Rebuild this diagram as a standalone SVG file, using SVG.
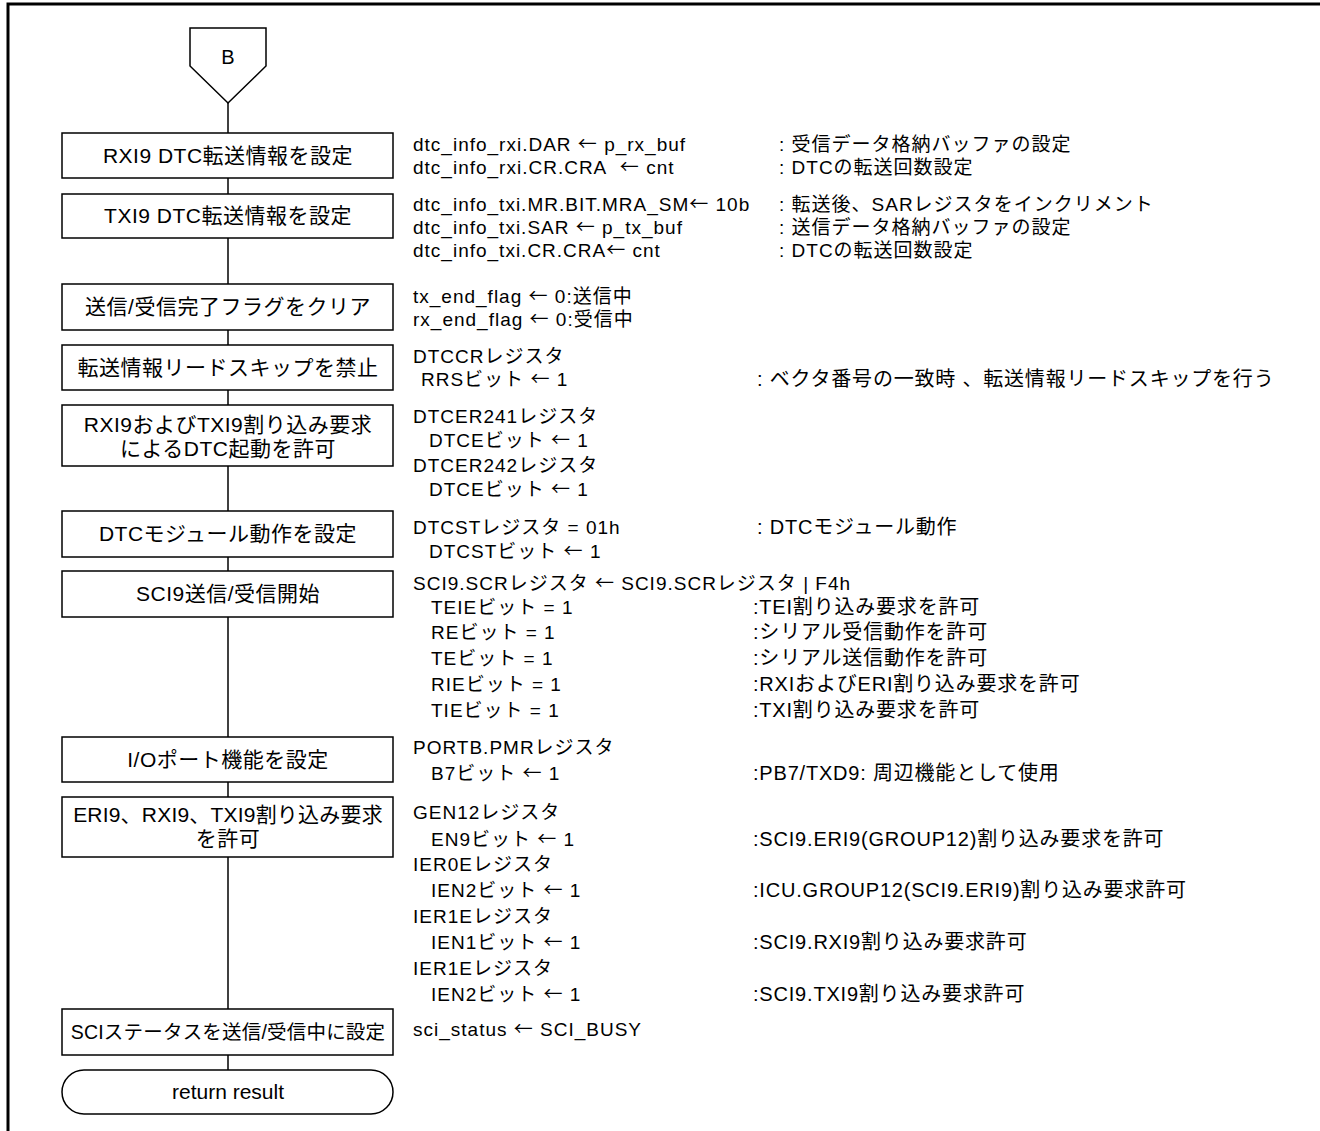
<svg xmlns="http://www.w3.org/2000/svg" width="1320" height="1131" viewBox="0 0 1320 1131">
<style>
text{font-family:"Liberation Sans","Noto Sans CJK JP",sans-serif;fill:#000}
.bt{font-size:21px;letter-spacing:0.5px;text-anchor:middle}
.rt{font-size:19px;letter-spacing:1px}
.rc{font-size:20px;letter-spacing:0.8px}
.ar{font-family:"Noto Sans CJK JP",sans-serif}
.shape{fill:#fff;stroke:#000;stroke-width:1.5}
.conn{stroke:#000;stroke-width:1.5;fill:none}
</style>
<rect x="0" y="0" width="1320" height="1131" fill="#fff"/>
<path d="M8,1131 V4 H1320" fill="none" stroke="#000" stroke-width="3"/>
<g id="connectors">
<line class="conn" x1="228" y1="103" x2="228" y2="1070"/>
</g>
<g id="nodeB"><polygon class="shape" points="190,28 266,28 266,66 228,103 190,66"/><text x="228" y="64" style="font-size:20px;text-anchor:middle">B</text></g>
<g id="n1"><rect class="shape" x="62" y="133" width="331" height="45"/><text class="bt" x="228" y="163">RXI9 DTC転送情報を設定</text></g>
<g id="n2"><rect class="shape" x="62" y="194" width="331" height="44"/><text class="bt" x="228" y="223">TXI9 DTC転送情報を設定</text></g>
<g id="n3"><rect class="shape" x="62" y="284" width="331" height="46"/><text class="bt" x="228" y="314">送信/受信完了フラグをクリア</text></g>
<g id="n4"><rect class="shape" x="62" y="345" width="331" height="45"/><text class="bt" x="228" y="375">転送情報リードスキップを禁止</text></g>
<g id="n5"><rect class="shape" x="62" y="405" width="331" height="61"/><text class="bt" x="228" y="432">RXI9およびTXI9割り込み要求</text><text class="bt" x="228" y="456">によるDTC起動を許可</text></g>
<g id="n6"><rect class="shape" x="62" y="511" width="331" height="46"/><text class="bt" x="228" y="541">DTCモジュール動作を設定</text></g>
<g id="n7"><rect class="shape" x="62" y="571" width="331" height="46"/><text class="bt" x="228" y="601">SCI9送信/受信開始</text></g>
<g id="n8"><rect class="shape" x="62" y="737" width="331" height="45"/><text class="bt" x="228" y="767">I/Oポート機能を設定</text></g>
<g id="n9"><rect class="shape" x="62" y="797" width="331" height="60"/><text class="bt" x="228" y="822" style="letter-spacing:0.2px">ERI9、RXI9、TXI9割り込み要求</text><text class="bt" x="228" y="846">を許可</text></g>
<g id="n10"><rect class="shape" x="62" y="1009" width="331" height="46"/><text class="bt" x="228" y="1039" style="font-size:19.5px;letter-spacing:0.2px">SCIステータスを送信/受信中に設定</text></g>
<g id="nEnd"><rect class="shape" x="62" y="1070" width="331" height="44" rx="22" ry="22"/><text class="bt" x="228" y="1099" style="letter-spacing:0">return result</text></g>
<g id="notes">
<text class="rt" x="413" y="150.5">dtc_info_rxi.DAR <tspan class="ar">←</tspan> p_rx_buf</text>
<text class="rt" x="413" y="173.5">dtc_info_rxi.CR.CRA&#160; <tspan class="ar">←</tspan> cnt</text>
<text class="rt" x="779" y="150.5">: 受信データ格納バッファの設定</text>
<text class="rt" x="779" y="173.5">: DTCの転送回数設定</text>
<text class="rt" x="413" y="211">dtc_info_txi.MR.BIT.MRA_SM<tspan class="ar">←</tspan> 10b</text>
<text class="rt" x="413" y="234">dtc_info_txi.SAR <tspan class="ar">←</tspan> p_tx_buf</text>
<text class="rt" x="413" y="257">dtc_info_txi.CR.CRA<tspan class="ar">←</tspan> cnt</text>
<text class="rt" x="779" y="211">: 転送後、SARレジスタをインクリメント</text>
<text class="rt" x="779" y="234">: 送信データ格納バッファの設定</text>
<text class="rt" x="779" y="257">: DTCの転送回数設定</text>
<text class="rt" x="413" y="303">tx_end_flag <tspan class="ar">←</tspan> 0:送信中</text>
<text class="rt" x="413" y="326">rx_end_flag <tspan class="ar">←</tspan> 0:受信中</text>
<text class="rt" x="413" y="362.5">DTCCRレジスタ</text>
<text class="rt" x="421" y="385.5">RRSビット <tspan class="ar">←</tspan> 1</text>
<text class="rc" x="757" y="385.5">: ベクタ番号の一致時 、転送情報リードスキップを行う</text>
<text class="rt" x="413" y="423">DTCER241レジスタ</text>
<text class="rt" x="429" y="447">DTCEビット <tspan class="ar">←</tspan> 1</text>
<text class="rt" x="413" y="472">DTCER242レジスタ</text>
<text class="rt" x="429" y="496">DTCEビット <tspan class="ar">←</tspan> 1</text>
<text class="rt" x="413" y="534">DTCSTレジスタ = 01h</text>
<text class="rc" x="757" y="534">: DTCモジュール動作</text>
<text class="rt" x="429" y="558">DTCSTビット <tspan class="ar">←</tspan> 1</text>
<text class="rt" x="413" y="590">SCI9.SCRレジスタ <tspan class="ar">←</tspan> SCI9.SCRレジスタ | F4h</text>
<text class="rt" x="431" y="614">TEIEビット = 1</text>
<text class="rt" x="431" y="639">REビット = 1</text>
<text class="rt" x="431" y="665">TEビット = 1</text>
<text class="rt" x="431" y="691">RIEビット = 1</text>
<text class="rt" x="431" y="717">TIEビット = 1</text>
<text class="rc" x="753" y="614">:TEI割り込み要求を許可</text>
<text class="rc" x="753" y="639">:シリアル受信動作を許可</text>
<text class="rc" x="753" y="665">:シリアル送信動作を許可</text>
<text class="rc" x="753" y="691">:RXIおよびERI割り込み要求を許可</text>
<text class="rc" x="753" y="717">:TXI割り込み要求を許可</text>
<text class="rt" x="413" y="754">PORTB.PMRレジスタ</text>
<text class="rt" x="431" y="780">B7ビット <tspan class="ar">←</tspan> 1</text>
<text class="rc" x="753" y="780">:PB7/TXD9: 周辺機能として使用</text>
<text class="rt" x="413" y="819">GEN12レジスタ</text>
<text class="rt" x="431" y="846">EN9ビット <tspan class="ar">←</tspan> 1</text>
<text class="rc" x="753" y="846">:SCI9.ERI9(GROUP12)割り込み要求を許可</text>
<text class="rt" x="413" y="871">IER0Eレジスタ</text>
<text class="rt" x="431" y="897">IEN2ビット <tspan class="ar">←</tspan> 1</text>
<text class="rc" x="753" y="897">:ICU.GROUP12(SCI9.ERI9)割り込み要求許可</text>
<text class="rt" x="413" y="923">IER1Eレジスタ</text>
<text class="rt" x="431" y="949">IEN1ビット <tspan class="ar">←</tspan> 1</text>
<text class="rc" x="753" y="949">:SCI9.RXI9割り込み要求許可</text>
<text class="rt" x="413" y="975">IER1Eレジスタ</text>
<text class="rt" x="431" y="1001">IEN2ビット <tspan class="ar">←</tspan> 1</text>
<text class="rc" x="753" y="1001">:SCI9.TXI9割り込み要求許可</text>
<text class="rt" x="413" y="1036">sci_status <tspan class="ar">←</tspan> SCI_BUSY</text>
</g>
</svg>
